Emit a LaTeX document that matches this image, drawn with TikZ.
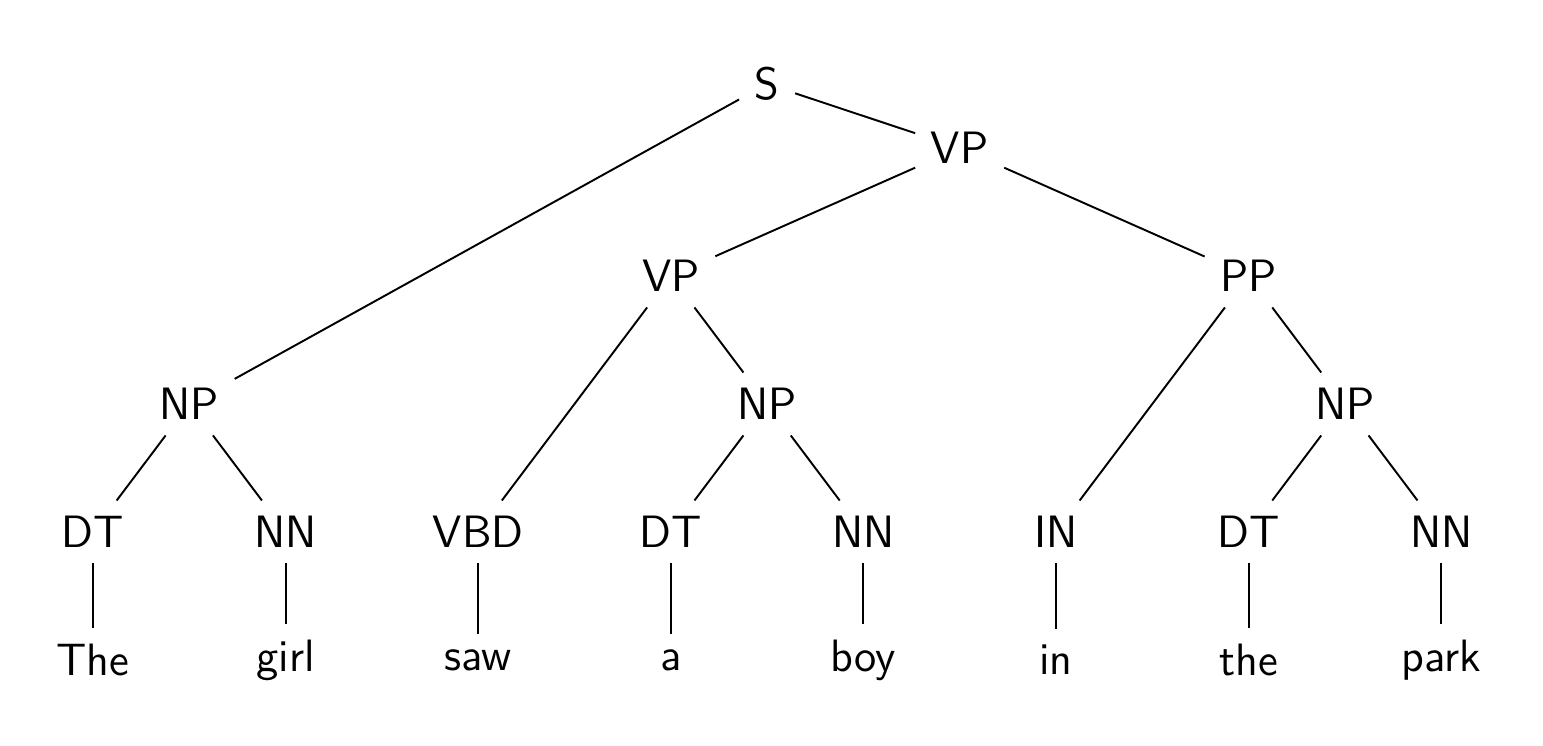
\documentclass[tikz,border=0pt]{standalone}
\usepackage{tikz}

\begin{document}
\begin{tikzpicture}
  [x=1.926cm, y=1.28cm, line width=0.55pt,
   every node/.style={font=\sffamily\fontsize{12.9}{15}\selectfont, inner sep=4.2pt}]
  \useasboundingbox (-0.93cm,-0.86cm) rectangle (14.50cm,6.60cm);

  %Phrase nodes
  \node (S)   at (3.5,4.5) {S};
  \node (VP1) at (4.5,4)   {VP};
  \node (VP2) at (3,3)     {VP};
  \node (PP)  at (6,3)     {PP};
  \node (NP1) at (0.5,2)   {NP};
  \node (NP2) at (3.5,2)   {NP};
  \node (NP3) at (6.5,2)   {NP};

  %Tags and words
  \foreach \ptag/\wrd [count=\i from 0] in {DT/The,NN/girl,VBD/saw,DT/a,NN/boy,IN/in,DT/the,NN/park} {
    \node (T\i) at (\i,1) {\ptag};
    \node (W\i) at (\i,0) {\wrd};
    \draw (T\i) -- (W\i);
  }

  %Branches
  \draw (S) -- (NP1);
  \draw (S) -- (VP1);
  \draw (VP1) -- (VP2);
  \draw (VP1) -- (PP);
  \draw (VP2) -- (T2);
  \draw (VP2) -- (NP2);
  \draw (PP) -- (T5);
  \draw (PP) -- (NP3);
  \foreach \np/\a/\b in {NP1/0/1,NP2/3/4,NP3/6/7} {
    \draw (\np) -- (T\a);
    \draw (\np) -- (T\b);
  }
\end{tikzpicture}
\end{document}
